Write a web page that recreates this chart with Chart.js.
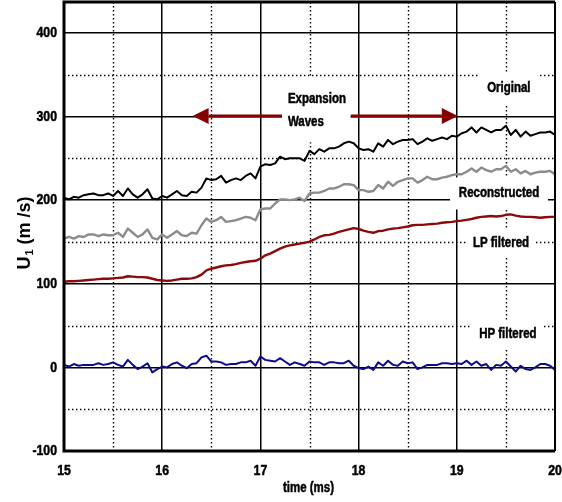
<!DOCTYPE html>
<html>
<head>
<meta charset="utf-8">
<title>U1 velocity traces</title>
<script src="https://cdn.jsdelivr.net/npm/chart.js"></script>
<style>
  body { margin: 0; background: #fff; }
  canvas { display: block; }
</style>
</head>
<body>
<canvas id="chart" width="562" height="502"></canvas>
<script>
// sample times in ms (0.05 ms spacing)
const times = [
  15.00, 15.05, 15.10, 15.15, 15.20, 15.25, 15.30, 15.35, 15.40, 15.45,
  15.50, 15.55, 15.60, 15.65, 15.70, 15.75, 15.80, 15.85, 15.90, 15.95,
  16.00, 16.05, 16.10, 16.15, 16.20, 16.25, 16.30, 16.35, 16.40, 16.45,
  16.50, 16.55, 16.60, 16.65, 16.70, 16.75, 16.80, 16.85, 16.90, 16.95,
  17.00, 17.05, 17.10, 17.15, 17.20, 17.25, 17.30, 17.35, 17.40, 17.45,
  17.50, 17.55, 17.60, 17.65, 17.70, 17.75, 17.80, 17.85, 17.90, 17.95,
  18.00, 18.05, 18.10, 18.15, 18.20, 18.25, 18.30, 18.35, 18.40, 18.45,
  18.50, 18.55, 18.60, 18.65, 18.70, 18.75, 18.80, 18.85, 18.90, 18.95,
  19.00, 19.05, 19.10, 19.15, 19.20, 19.25, 19.30, 19.35, 19.40, 19.45,
  19.50, 19.55, 19.60, 19.65, 19.70, 19.75, 19.80, 19.85, 19.90, 19.95,
  20.00
];

// U1 in m/s
const original = [
  203, 201, 204, 203, 206, 207, 208, 206, 206, 208,
  205, 211, 205, 214, 207, 203, 207, 213, 202, 201,
  205, 203, 207, 211, 206, 205, 210, 209, 215, 226,
  224, 225, 229, 221, 224, 226, 224, 229, 232, 226,
  240, 243, 242, 244, 252, 249, 250, 250, 250, 247,
  259, 255, 261, 258, 262, 262, 264, 268, 270, 268,
  262, 260, 261, 258, 268, 264, 272, 267, 270, 272,
  272, 273, 267, 270, 274, 271, 273, 275, 273, 277,
  276, 280, 282, 287, 281, 287, 284, 281, 284, 284,
  289, 278, 284, 276, 282, 277, 279, 281, 281, 282,
  278
];

const reconstructed = [
  154, 156, 154, 157, 156, 159, 159, 157, 159, 158,
  158, 161, 156, 166, 161, 156, 159, 165, 155, 153,
  159, 155, 159, 163, 158, 157, 161, 160, 170, 178,
  174, 176, 180, 174, 175, 176, 178, 180, 179, 176,
  189, 190, 190, 196, 201, 201, 200, 201, 203, 199,
  208, 209, 209, 211, 214, 214, 216, 219, 219, 218,
  212, 212, 210, 211, 218, 214, 222, 217, 222, 224,
  226, 226, 221, 224, 228, 225, 225, 227, 228, 230,
  231, 231, 234, 238, 234, 239, 236, 234, 237, 237,
  241, 234, 237, 232, 235, 231, 233, 234, 234, 235,
  231
];

const lpFiltered = [
  102.5, 103, 103, 103.5, 104, 104.5, 105, 105.5, 106, 106,
  106.5, 107, 107.5, 109, 108.5, 108, 108, 107.5, 106, 104.5,
  104, 103.5, 104, 105, 106, 106, 106.5, 108, 111, 116,
  118, 119.5, 121, 122, 122.5, 123.5, 125, 126, 127, 127.5,
  130, 134, 136, 139, 142, 144.5, 146, 147, 148, 149,
  150.5, 153, 156, 158, 158.5, 160, 162, 163.5, 165, 166.5,
  165.5, 163.5, 162, 161, 163, 163.5, 165, 166, 166.5, 167.5,
  168.5, 170, 170.5, 170.5, 171, 171.5, 172, 173, 173.5, 174,
  175, 175.5, 176.5, 177.5, 179, 180, 180.5, 181, 180.5, 181,
  182.5, 183, 181.5, 180.5, 180, 180, 179.5, 179, 179.5, 180,
  180
];

const hpFiltered = [
  3, 1, 4, 2, 3, 3, 3, 5, 3, 4,
  6, 3, 1, 9, 3, -2, 1, 5, -6, -2,
  1, 0, 4, 6, 2, -1, 4, 5, 12, 14,
  7, 7, 6, 3, 4, 4, 6, 6, 8, 2,
  13, 9, 8, 7, 11, 7, 3, 6, 4, 2,
  7, 6, 6, 3, 6, 6, 5, 5, 8, 2,
  -1, -2, 1, -3, 6, 2, 8, 3, 2, 7,
  5, 6, -2, 0, 3, 3, 3, 5, 5, 4,
  5, 4, 8, 3, 7, 2, 4, -3, 3, 2,
  7, 1, -5, 2, -2, -3, 0, 4, 4, 2,
  -3
];

const xMinor = [15.5, 16.5, 17.5, 18.5, 19.5];
const yMinor = [-50, 50, 150, 250, 350];

const FONT = "'Liberation Sans', Arial, sans-serif";
const NARROW = 0.82; // horizontal squeeze to get a narrow face
const ARROW_RED = '#850000';

function pts(values) {
  return values.map((v, i) => ({ x: times[i], y: v }));
}

// heavy condensed text; align is 'left' | 'center' | 'right'
function narrowText(ctx, text, x, y, size, align) {
  ctx.save();
  ctx.translate(x, y);
  ctx.scale(NARROW, 1);
  ctx.font = 'bold ' + size + 'px ' + FONT;
  ctx.textAlign = align;
  ctx.textBaseline = 'middle';
  ctx.fillStyle = '#000';
  ctx.strokeStyle = '#000';
  ctx.lineWidth = 0.5;
  ctx.fillText(text, 0, 0);
  ctx.strokeText(text, 0, 0);
  ctx.restore();
}

// curve captions, each sitting in a white box (centre in data units, box in px)
const captions = [
  { text: 'Original', x: 19.53, y: 334, w: 58, h: 32 },
  { text: 'Reconstructed', x: 19.43, y: 208, w: 98, h: 32 },
  { text: 'LP filtered', x: 19.45, y: 148.5, w: 70, h: 28 },
  { text: 'HP filtered', x: 19.52, y: 39.5, w: 72, h: 28 }
];

function arrow(ctx, x0, x1, y) {
  const dir = Math.sign(x1 - x0);
  const head = 16;
  ctx.strokeStyle = ARROW_RED;
  ctx.fillStyle = ARROW_RED;
  ctx.lineWidth = 3;
  ctx.beginPath();
  ctx.moveTo(x0, y);
  ctx.lineTo(x1 - dir * head, y);
  ctx.stroke();
  ctx.beginPath();
  ctx.moveTo(x1, y);
  ctx.lineTo(x1 - dir * head, y - 8);
  ctx.lineTo(x1 - dir * head, y + 8);
  ctx.closePath();
  ctx.fill();
}

const decor = {
  id: 'decor',
  beforeDatasetsDraw(chart) {
    const { ctx, chartArea: a, scales: { x, y } } = chart;
    ctx.save();

    // dotted half-step grid
    ctx.strokeStyle = '#000';
    ctx.lineWidth = 1.4;
    ctx.setLineDash([1.4, 2.6]);
    xMinor.forEach(v => {
      const px = Math.round(x.getPixelForValue(v)) + 0.5;
      ctx.beginPath();
      ctx.moveTo(px, a.top);
      ctx.lineTo(px, a.bottom);
      ctx.stroke();
    });
    yMinor.forEach(v => {
      const py = Math.round(y.getPixelForValue(v)) + 0.5;
      ctx.beginPath();
      ctx.moveTo(a.left, py);
      ctx.lineTo(a.right, py);
      ctx.stroke();
    });
    ctx.setLineDash([]);

    // captions
    captions.forEach(c => {
      const cx = x.getPixelForValue(c.x);
      const cy = y.getPixelForValue(c.y);
      ctx.fillStyle = '#fff';
      ctx.fillRect(cx - c.w / 2, cy - c.h / 2, c.w, c.h);
      narrowText(ctx, c.text, cx, cy, 14, 'center');
    });

    // expansion waves note with two arrows
    const ay = y.getPixelForValue(300.6);
    const lx = x.getPixelForValue(17.22);
    const rx = x.getPixelForValue(17.92);
    ctx.fillStyle = '#fff';
    ctx.fillRect(lx, y.getPixelForValue(347), rx - lx, 65);
    const tx = x.getPixelForValue(17.28);
    narrowText(ctx, 'Expansion', tx, y.getPixelForValue(321), 14, 'left');
    narrowText(ctx, 'Waves', tx, y.getPixelForValue(293.5), 14, 'left');
    arrow(ctx, lx, x.getPixelForValue(16.31), ay);
    arrow(ctx, rx, x.getPixelForValue(19.01), ay);

    ctx.restore();
  },
  afterDraw(chart) {
    const { ctx, chartArea: a, scales: { x, y } } = chart;
    ctx.save();
    // plot frame
    ctx.strokeStyle = '#000';
    ctx.lineWidth = 3;
    ctx.beginPath();
    ctx.moveTo(a.right, a.top);
    ctx.lineTo(a.left, a.top);
    ctx.lineTo(a.left, a.bottom);
    ctx.lineTo(a.right, a.bottom);
    ctx.stroke();
    ctx.lineWidth = 2;
    ctx.beginPath();
    ctx.moveTo(a.right, a.top);
    ctx.lineTo(a.right, a.bottom);
    ctx.stroke();

    // tick labels
    x.ticks.forEach(t => narrowText(ctx, String(t.value), x.getPixelForValue(t.value), a.bottom + 20, 15, 'center'));
    y.ticks.forEach(t => narrowText(ctx, String(t.value), a.left - 7, y.getPixelForValue(t.value), 15, 'right'));

    // axis titles
    narrowText(ctx, 'time (ms)', (a.left + a.right) / 2 - 1, 488, 14, 'center');

    ctx.translate(23, 233);
    ctx.rotate(-Math.PI / 2);
    ctx.fillStyle = '#000';
    ctx.textAlign = 'left';
    ctx.textBaseline = 'alphabetic';
    const big = 'bold 18px ' + FONT;
    const small = 'bold 11px ' + FONT;
    ctx.font = big;
    const wU = ctx.measureText('U').width;
    const wRest = ctx.measureText(' (m /s)').width;
    ctx.font = small;
    const wSub = ctx.measureText('1').width;
    let sx = -(wU + 1 + wSub + wRest) / 2;
    const base = 7;
    ctx.font = big;
    ctx.fillText('U', sx, base);
    sx += wU + 1;
    ctx.font = small;
    ctx.fillText('1', sx, base + 3);
    sx += wSub;
    ctx.font = big;
    ctx.fillText(' (m /s)', sx, base);
    ctx.restore();
  }
};

new Chart(document.getElementById('chart'), {
  type: 'line',
  data: {
    datasets: [
      { label: 'Original', data: pts(original), borderColor: '#000', borderWidth: 2 },
      { label: 'Reconstructed', data: pts(reconstructed), borderColor: '#8c8c8c', borderWidth: 2.4 },
      { label: 'LP filtered', data: pts(lpFiltered), borderColor: '#8b0a0a', borderWidth: 2.4 },
      { label: 'HP filtered', data: pts(hpFiltered), borderColor: '#0c0c8c', borderWidth: 2 }
    ]
  },
  options: {
    responsive: false,
    animation: false,
    layout: { padding: { top: 2, right: 7, left: 0, bottom: 0 } },
    elements: {
      point: { radius: 0 },
      line: { tension: 0, borderJoinStyle: 'round', fill: false }
    },
    plugins: { legend: { display: false }, tooltip: { enabled: false } },
    scales: {
      x: {
        type: 'linear',
        min: 15,
        max: 20,
        afterFit: s => { s.height = 51; s.paddingLeft = 0; s.paddingRight = 0; },
        ticks: { stepSize: 1, display: false },
        grid: { color: '#000', lineWidth: 1.5, drawTicks: false },
        border: { display: false }
      },
      y: {
        min: -100,
        max: 437,
        afterFit: s => { s.width = 64; s.paddingTop = 0; s.paddingBottom = 0; },
        ticks: { stepSize: 100, includeBounds: false, display: false },
        grid: { color: '#000', lineWidth: 1.5, drawTicks: false },
        border: { display: false }
      }
    }
  },
  plugins: [decor]
});
</script>
</body>
</html>
